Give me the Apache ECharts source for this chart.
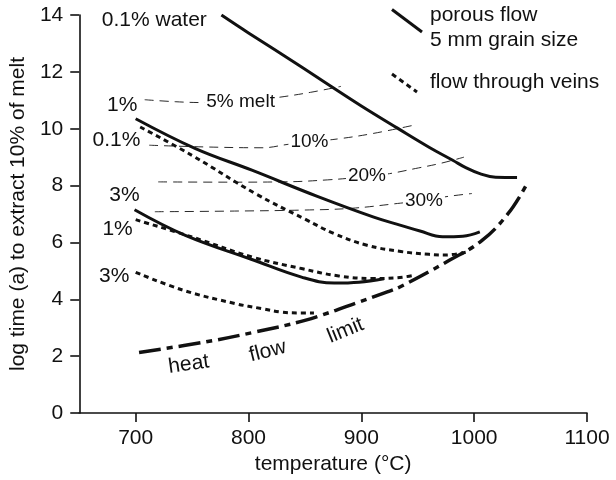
<!DOCTYPE html>
<html><head><meta charset="utf-8">
<script src="https://cdn.jsdelivr.net/npm/echarts@6/dist/echarts.min.js"></script>
<style>html,body{margin:0;padding:0;background:#fff}#c{width:616px;height:480px}</style>
</head><body><div id="c"></div>
<script>
// ---- tick labels ----
const xTicks = [700, 800, 900, 1000, 1100];
const yTicks = [0, 2, 4, 6, 8, 10, 12, 14];

// ---- porous flow (solid) ----
const porous01X = [776, 800, 846, 872, 900, 932, 960, 981, 993, 1005, 1019, 1038];
const porous01Y = [14.0, 13.37, 12.2, 11.52, 10.8, 10.02, 9.35, 8.89, 8.62, 8.42, 8.29, 8.28];
const porous1X = [700, 753, 803, 861, 911, 935, 952, 972, 990, 1005];
const porous1Y = [10.35, 9.3, 8.54, 7.62, 6.89, 6.6, 6.4, 6.2, 6.22, 6.37];
const porous3X = [699, 744, 803, 847, 876, 898, 920];
const porous3Y = [7.15, 6.25, 5.4, 4.78, 4.57, 4.6, 4.72];

// ---- flow through veins (dotted) ----
const veins01X = [704, 750, 806, 850, 876, 905, 935, 960, 975, 993];
const veins01Y = [10.06, 9.06, 7.72, 6.82, 6.31, 5.9, 5.68, 5.58, 5.56, 5.66];
const veins1X = [700, 750, 803, 847, 880, 910, 930, 948];
const veins1Y = [6.8, 6.19, 5.49, 5.08, 4.82, 4.73, 4.75, 4.85];
const veins3X = [700, 742, 788, 812, 829, 846, 858];
const veins3Y = [4.95, 4.32, 3.85, 3.67, 3.55, 3.52, 3.52];

// ---- heat flow limit (dash-dot) ----
const heatX = [703, 762, 806, 850, 894, 923, 935, 978, 1007, 1030, 1046];
const heatY = [2.13, 2.5, 2.85, 3.26, 3.85, 4.26, 4.45, 5.37, 6.07, 7.01, 8.0];

// ---- melt fraction contours (thin dashed) ----
const melt5X = [708, 735, 760, 793, 826, 855, 882];
const melt5Y = [11.02, 10.95, 10.92, 10.95, 11.1, 11.28, 11.49];
const melt10X = [712, 760, 812, 835, 854, 879, 910, 946];
const melt10Y = [9.42, 9.36, 9.33, 9.45, 9.54, 9.64, 9.83, 10.12];
const melt20X = [720, 780, 830, 870, 905, 925, 948, 970, 991];
const melt20Y = [8.13, 8.12, 8.13, 8.2, 8.32, 8.42, 8.6, 8.78, 9.0];
const melt30X = [717, 780, 850, 891, 932, 955, 977, 998];
const melt30Y = [7.08, 7.1, 7.14, 7.2, 7.37, 7.48, 7.62, 7.72];

// ---- annotation texts ----
const curveLabels = [
  {text: '0.1% water', x: 716.5, y: 13.83},
  {text: '1%', x: 688, y: 10.84},
  {text: '0.1%', x: 683, y: 9.59},
  {text: '3%', x: 690, y: 7.66},
  {text: '1%', x: 684, y: 6.48},
  {text: '3%', x: 681, y: 4.81}
];
const meltLabels = [
  {text: '5% melt', x: 793, y: 10.96},
  {text: '10%', x: 854, y: 9.54},
  {text: '20%', x: 905, y: 8.33},
  {text: '30%', x: 955.5, y: 7.48}
];
const limitLabels = [
  {text: 'heat', x: 747, y: 1.71, rot: 8},
  {text: 'flow', x: 817, y: 2.17, rot: 14},
  {text: 'limit', x: 886, y: 2.9, rot: 22}
];

const FONT = '"Liberation Sans", Arial, Helvetica, sans-serif';
const INK = '#111';
const FS = 21;
const zip = (xs, ys) => xs.map((x, i) => [x, ys[i]]);

function curve(name, xs, ys, style) {
  return {
    name, type: 'line', data: zip(xs, ys), showSymbol: false, symbol: 'none',
    smooth: 0.4, silent: true, z: style.z || 3,
    lineStyle: Object.assign({color: INK, cap: 'butt', join: 'round', opacity: 1}, style.line)
  };
}
const solid = {line: {width: 3, type: 'solid'}};
const dotted = {line: {width: 3, type: [5, 4]}};
const dashdot = {line: {width: 3.5, type: [22, 6, 6, 6]}};
const thin = {line: {width: 0.9, type: [9, 6]}, z: 2};

function labelSeries(list, size, bg, z) {
  return {
    type: 'scatter', symbolSize: 0, silent: true, z: z,
    itemStyle: {opacity: 1},
    data: list.map(d => ({
      value: [d.x, d.y],
      label: {show: true, position: 'inside', formatter: d.text, rotate: d.rot || 0,
        fontFamily: FONT, fontSize: size, color: INK, opacity: 1,
        backgroundColor: bg ? '#fff' : 'transparent', padding: bg ? [0, 2] : 0}
    }))
  };
}

const chart = echarts.init(document.getElementById('c'), null, {renderer: 'canvas'});
chart.setOption({
  animation: false,
  backgroundColor: '#fff',
  grid: {left: 77, right: 29, top: 15, bottom: 67, containLabel: false},
  xAxis: {
    type: 'value', min: 650, max: 1100, interval: 50,
    name: 'temperature (°C)', nameLocation: 'middle', nameGap: 39,
    nameTextStyle: {fontFamily: FONT, fontSize: FS, color: INK},
    axisLine: {show: true, onZero: false, lineStyle: {color: INK, width: 1.6}},
    axisTick: {show: true, length: 9, inside: false, customValues: xTicks, lineStyle: {color: INK, width: 1.6}},
    axisLabel: {customValues: xTicks, formatter: v => String(v), margin: 15, fontFamily: FONT, fontSize: FS, color: INK},
    splitLine: {show: false}
  },
  yAxis: {
    type: 'value', min: 0, max: 14, interval: 2,
    name: 'log time (a) to extract 10% of melt', nameLocation: 'middle', nameGap: 43, nameRotate: 90,
    nameTextStyle: {fontFamily: FONT, fontSize: FS, color: INK},
    axisLine: {show: true, onZero: false, lineStyle: {color: INK, width: 1.6}},
    axisTick: {show: true, length: 9, inside: false, lineStyle: {color: INK, width: 1.6}},
    axisLabel: {customValues: yTicks, formatter: v => String(v), margin: 16, fontFamily: FONT, fontSize: FS, color: INK},
    splitLine: {show: false}
  },
  series: [
    curve('melt 5%', melt5X, melt5Y, thin),
    curve('melt 10%', melt10X, melt10Y, thin),
    curve('melt 20%', melt20X, melt20Y, thin),
    curve('melt 30%', melt30X, melt30Y, thin),
    labelSeries(meltLabels, 19, true, 4),
    curve('porous 0.1%', porous01X, porous01Y, solid),
    curve('porous 1%', porous1X, porous1Y, solid),
    curve('porous 3%', porous3X, porous3Y, solid),
    curve('veins 0.1%', veins01X, veins01Y, dotted),
    curve('veins 1%', veins1X, veins1Y, dotted),
    curve('veins 3%', veins3X, veins3Y, dotted),
    curve('heat flow limit', heatX, heatY, dashdot),
    labelSeries(curveLabels, FS, false, 5),
    labelSeries(limitLabels, FS, false, 5)
  ],
  graphic: [
    {type: 'line', shape: {x1: 392, y1: 9.5, x2: 422, y2: 32}, style: {stroke: INK, lineWidth: 3}},
    {type: 'text', left: 430, top: 5, style: {text: 'porous flow', font: FS + 'px ' + FONT, fill: INK}},
    {type: 'text', left: 430, top: 30, style: {text: '5 mm grain size', font: FS + 'px ' + FONT, fill: INK}},
    {type: 'line', shape: {x1: 392, y1: 74, x2: 417, y2: 92}, style: {stroke: INK, lineWidth: 3, lineDash: [5, 4]}},
    {type: 'text', left: 430, top: 72, style: {text: 'flow through veins', font: FS + 'px ' + FONT, fill: INK}}
  ]
});
</script>
</body></html>
